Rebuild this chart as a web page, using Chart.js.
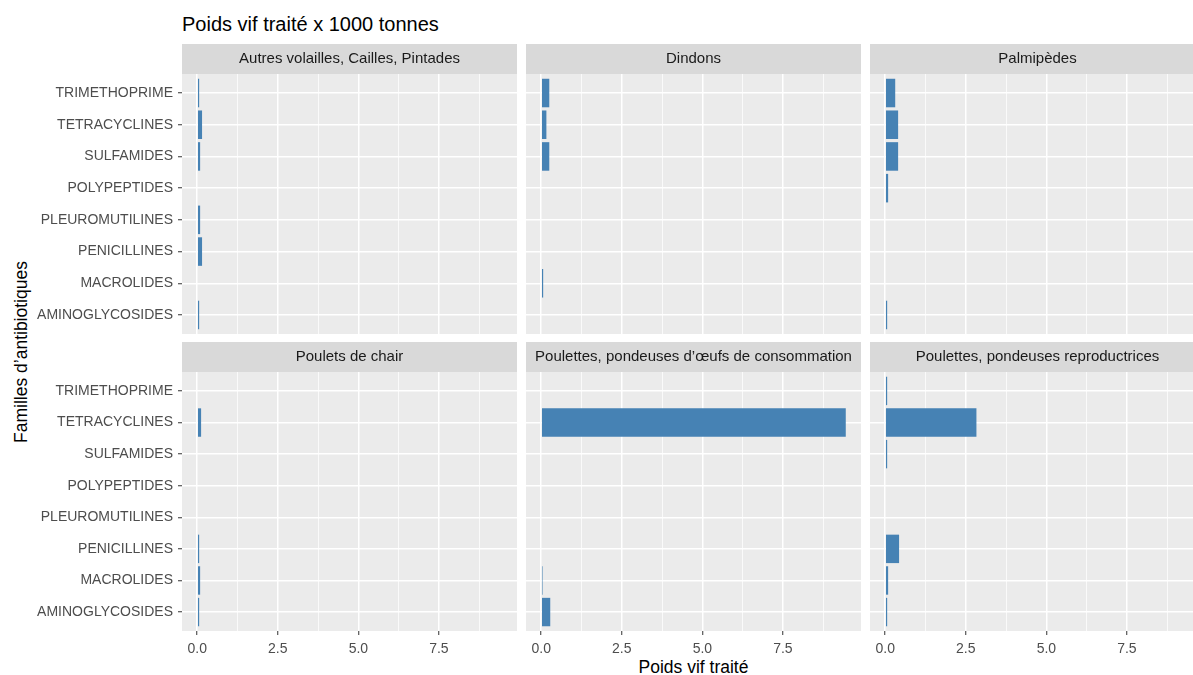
<!DOCTYPE html>
<html>
<head>
<meta charset="utf-8">
<script src="https://cdn.jsdelivr.net/npm/chart.js@4"></script>
<style>
    body { margin: 0; width: 1193px; height: 675px; overflow: hidden; background: #fff; position: relative;
           font-family: "Liberation Sans", Arial, sans-serif; }
    .panneau { position: absolute; }
    #titre { position: absolute; left: 182px; top: 13px; font-size: 20px; color: #000; white-space: nowrap; }
    #xtitre { position: absolute; left: 182px; width: 1023px; top: 657px; text-align: center; font-size: 17.5px; color: #000; }
    #ytitre { position: absolute; left: 21px; top: 352px; transform: translate(-50%, -50%) rotate(-90deg);
              white-space: nowrap; font-size: 17.5px; color: #000; }
</style>
</head>
<body>
<div id="titre">Poids vif traité x 1000 tonnes</div>
<div id="ytitre">Familles d’antibiotiques</div>
<div id="xtitre">Poids vif traité</div>

<script>
// familles d'antibiotiques, du bas vers le haut
const familles = ['AMINOGLYCOSIDES', 'MACROLIDES', 'PENICILLINES', 'PLEUROMUTILINES',
                  'POLYPEPTIDES', 'SULFAMIDES', 'TETRACYCLINES', 'TRIMETHOPRIME'];

const facettes = ['Autres volailles, Cailles, Pintades', 'Dindons', 'Palmipèdes',
                  'Poulets de chair', 'Poulettes, pondeuses d’œufs de consommation', 'Poulettes, pondeuses reproductrices'];

// valeurs par famille (null = pas de donnée)
const autresVolailles = [0.06, null, 0.15, 0.09, null, 0.09, 0.15, 0.06];
const dindons         = [null, 0.06, null, null, null, 0.25, 0.16, 0.25];
const palmipedes      = [0.06, null, null, null, 0.09, 0.40, 0.40, 0.31];
const pouletsChair    = [0.06, 0.09, 0.06, null, null, null, 0.12, null];
const poulettesConso  = [0.28, 0.04, null, null, null, null, 9.45, null];
const poulettesRepro  = [0.06, 0.09, 0.43, null, null, 0.06, 2.83, 0.06];

const valeurs = [autresVolailles, dindons, palmipedes, pouletsChair, poulettesConso, poulettesRepro];

const xTicks = [0, 2.5, 5, 7.5];

// échelle commune (expansion de 5% comme ggplot)
const tout = valeurs.flat().filter(v => v !== null);
const vMin = Math.min(0, ...tout), vMax = Math.max(...tout);
const marge = (vMax - vMin) * 0.05;

// grille : lignes majeures + mineures
const pas = xTicks[1] - xTicks[0];
const grille = [];
xTicks.forEach(t => { grille.push(t); grille.push(t + pas / 2); });

const estMajeur = v => xTicks.includes(v);

const fond = {
    id: 'fond',
    beforeDraw(chart, args, opts) {
        const { ctx, chartArea: a } = chart;
        ctx.save();
        ctx.fillStyle = '#EBEBEB';
        ctx.fillRect(a.left, a.top, a.right - a.left, a.bottom - a.top);
        // bandeau de facette
        ctx.fillStyle = '#D9D9D9';
        ctx.fillRect(a.left, a.top - 30, a.right - a.left, 30);
        ctx.fillStyle = '#1A1A1A';
        ctx.font = '15px "Liberation Sans", Arial, sans-serif';
        ctx.textAlign = 'center';
        ctx.textBaseline = 'middle';
        ctx.fillText(opts.texte, (a.left + a.right) / 2, a.top - 15);
        ctx.restore();
    }
};

const colLeft = [0, 526, 870], colWidth = [517, 335, 335], yAxisW = [182, 0, 0];
const rowTop = [44, 342], rowHeight = [290, 320], xAxisH = [0, 31];

valeurs.forEach((serie, k) => {
    const col = k % 3, row = Math.floor(k / 3);
    const div = document.createElement('div');
    div.className = 'panneau';
    div.style.left = colLeft[col] + 'px';
    div.style.top = rowTop[row] + 'px';
    const canvas = document.createElement('canvas');
    canvas.width = colWidth[col];
    canvas.height = rowHeight[row];
    div.appendChild(canvas);
    document.body.appendChild(div);

    const points = [];
    serie.forEach((v, i) => { if (v !== null) points.push({ x: v, y: i + 1 }); });

    new Chart(canvas.getContext('2d'), {
        type: 'bar',
        data: {
            datasets: [{
                data: points,
                backgroundColor: '#4682B4',
                borderWidth: 0,
                categoryPercentage: 1,
                barPercentage: 0.9
            }]
        },
        plugins: [fond],
        options: {
            indexAxis: 'y',
            responsive: false,
            animation: false,
            layout: { padding: { top: 30, left: 0, right: 0, bottom: 0 } },
            plugins: {
                legend: { display: false },
                tooltip: { enabled: false },
                fond: { texte: facettes[k] }
            },
            scales: {
                x: {
                    type: 'linear',
                    min: vMin - marge,
                    max: vMax + marge,
                    bounds: 'data',
                    offset: false,
                    afterBuildTicks: s => { s.ticks = grille.map(v => ({ value: v })); },
                    afterFit: s => { s.height = xAxisH[row]; s.paddingLeft = 0; s.paddingRight = 0; },
                    border: { display: false },
                    grid: {
                        offset: false,
                        color: '#FFFFFF',
                        lineWidth: c => (c.tick && estMajeur(c.tick.value)) ? 1.5 : 0.75,
                        drawTicks: row === 1,
                        tickLength: 4,
                        tickWidth: 1,
                        tickColor: c => (c.tick && estMajeur(c.tick.value)) ? '#333333' : 'rgba(0,0,0,0)'
                    },
                    ticks: {
                        display: row === 1,
                        autoSkip: false,
                        maxRotation: 0,
                        padding: 6,
                        color: '#4D4D4D',
                        font: { family: '"Liberation Sans", Arial, sans-serif', size: 14 },
                        callback: v => estMajeur(v) ? v.toFixed(1) : ''
                    }
                },
                y: {
                    type: 'linear',
                    min: 0.4,
                    max: familles.length + 0.6,
                    bounds: 'data',
                    offset: false,
                    afterBuildTicks: s => { s.ticks = familles.map((_, i) => ({ value: i + 1 })); },
                    afterFit: s => { s.width = yAxisW[col]; s.paddingTop = 0; s.paddingBottom = 0; },
                    border: { display: false },
                    grid: {
                        offset: false,
                        color: '#FFFFFF',
                        lineWidth: 1.5,
                        drawTicks: col === 0,
                        tickLength: 4,
                        tickWidth: 1,
                        tickColor: '#333333'
                    },
                    ticks: {
                        display: col === 0,
                        autoSkip: false,
                        padding: 5,
                        color: '#4D4D4D',
                        font: { family: '"Liberation Sans", Arial, sans-serif', size: 14 },
                        callback: v => familles[v - 1]
                    }
                }
            }
        }
    });
});
</script>
</body>
</html>
